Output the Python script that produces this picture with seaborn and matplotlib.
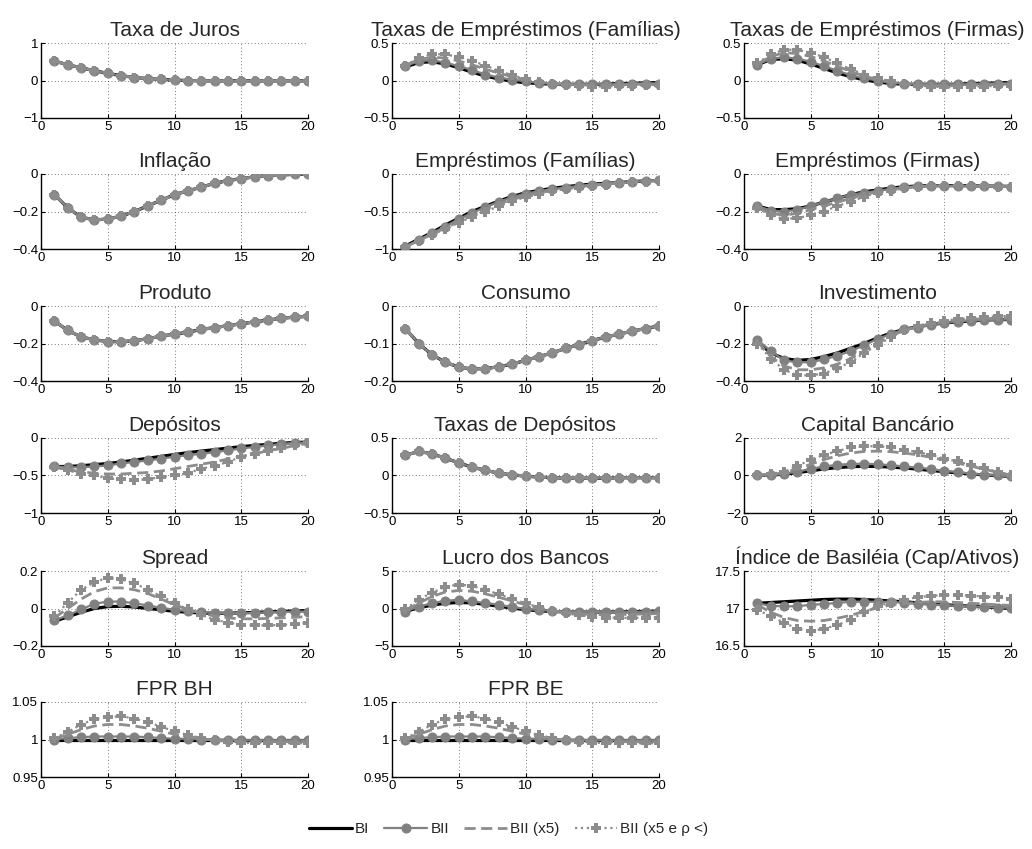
import numpy as np
import pandas as pd
import matplotlib
matplotlib.use("Agg")
import matplotlib.pyplot as plt
from matplotlib.ticker import FuncFormatter
import seaborn as sns

sns.set_style("white")
plt.rcParams['font.family'] = ['Liberation Sans', 'DejaVu Sans']

periods = list(range(1, 21))
series_names = ["BI", "BII", "BII (x5)", "BII (x5 e ρ <)"]

titles = ["Taxa de Juros", "Taxas de Empréstimos (Famílias)", "Taxas de Empréstimos (Firmas)",
          "Inflação", "Empréstimos (Famílias)", "Empréstimos (Firmas)",
          "Produto", "Consumo", "Investimento",
          "Depósitos", "Taxas de Depósitos", "Capital Bancário",
          "Spread", "Lucro dos Bancos", "Índice de Basiléia (Cap/Ativos)",
          "FPR BH", "FPR BE"]

yticks = [[-1, 0, 1], [-0.5, 0, 0.5], [-0.5, 0, 0.5],
          [-0.4, -0.2, 0], [-1, -0.5, 0], [-0.4, -0.2, 0],
          [-0.4, -0.2, 0], [-0.2, -0.1, 0], [-0.4, -0.2, 0],
          [-1, -0.5, 0], [-0.5, 0, 0.5], [-2, 0, 2],
          [-0.2, 0, 0.2], [-5, 0, 5], [16.5, 17, 17.5],
          [0.95, 1, 1.05], [0.95, 1, 1.05]]

# ---- data (BI, BII, BII x5, BII x5 rho<) ----
juros = [0.52, 0.42, 0.34, 0.26, 0.19, 0.13, 0.08, 0.05, 0.03, 0.01, 0.0, -0.01, -0.01, -0.01, -0.01, -0.01, -0.01, -0.01, -0.01, -0.01]
juros_all = [juros, juros, juros, juros]

tef_bi = [0.18, 0.24, 0.25, 0.22, 0.17, 0.11, 0.06, 0.02, -0.01, -0.03, -0.04, -0.05, -0.05, -0.05, -0.05, -0.05, -0.04, -0.04, -0.03, -0.03]
tef_bii = [0.19, 0.26, 0.27, 0.24, 0.19, 0.14, 0.08, 0.04, 0.01, -0.01, -0.03, -0.04, -0.05, -0.05, -0.05, -0.05, -0.05, -0.04, -0.04, -0.04]
tef_x5 = [0.20, 0.28, 0.31, 0.30, 0.26, 0.21, 0.15, 0.10, 0.05, 0.01, -0.02, -0.04, -0.05, -0.06, -0.06, -0.06, -0.06, -0.05, -0.05, -0.05]
tef_rho = [0.20, 0.30, 0.35, 0.35, 0.31, 0.26, 0.20, 0.13, 0.07, 0.02, -0.02, -0.05, -0.06, -0.07, -0.08, -0.08, -0.07, -0.07, -0.06, -0.06]

tefi_bi = [0.21, 0.28, 0.29, 0.27, 0.22, 0.16, 0.10, 0.05, 0.01, -0.02, -0.04, -0.05, -0.05, -0.05, -0.05, -0.05, -0.04, -0.04, -0.03, -0.03]
tefi_bii = [0.21, 0.29, 0.31, 0.29, 0.25, 0.19, 0.13, 0.07, 0.03, 0.0, -0.03, -0.04, -0.05, -0.05, -0.05, -0.05, -0.05, -0.04, -0.04, -0.04]
tefi_x5 = [0.22, 0.32, 0.37, 0.36, 0.32, 0.26, 0.19, 0.12, 0.06, 0.01, -0.02, -0.05, -0.06, -0.07, -0.07, -0.07, -0.06, -0.06, -0.05, -0.05]
tefi_rho = [0.23, 0.35, 0.41, 0.41, 0.37, 0.31, 0.23, 0.15, 0.08, 0.03, -0.01, -0.05, -0.07, -0.08, -0.09, -0.09, -0.08, -0.08, -0.07, -0.07]

infl = [-0.11, -0.18, -0.23, -0.245, -0.24, -0.225, -0.20, -0.17, -0.14, -0.11, -0.09, -0.07, -0.05, -0.035, -0.025, -0.015, -0.008, -0.005, -0.002, 0.0]
infl_all = [infl, infl, infl, infl]

ef_bi = [-0.96, -0.87, -0.78, -0.68, -0.59, -0.50, -0.43, -0.36, -0.30, -0.25, -0.22, -0.19, -0.17, -0.15, -0.135, -0.125, -0.115, -0.10, -0.093, -0.085]
ef_bii = [-0.97, -0.88, -0.79, -0.70, -0.60, -0.52, -0.44, -0.37, -0.31, -0.26, -0.23, -0.20, -0.18, -0.16, -0.14, -0.13, -0.12, -0.10, -0.095, -0.085]
ef_x5 = [-0.97, -0.89, -0.80, -0.72, -0.63, -0.55, -0.47, -0.40, -0.34, -0.29, -0.25, -0.22, -0.19, -0.17, -0.15, -0.135, -0.12, -0.105, -0.095, -0.085]
ef_rho = [-0.97, -0.89, -0.81, -0.73, -0.65, -0.57, -0.50, -0.43, -0.36, -0.31, -0.27, -0.23, -0.20, -0.18, -0.155, -0.14, -0.125, -0.11, -0.10, -0.09]

efi_bi = [-0.17, -0.19, -0.19, -0.185, -0.17, -0.15, -0.13, -0.11, -0.095, -0.085, -0.075, -0.068, -0.064, -0.062, -0.062, -0.062, -0.063, -0.064, -0.065, -0.066]
efi_bii = [-0.17, -0.195, -0.20, -0.19, -0.17, -0.15, -0.13, -0.11, -0.10, -0.09, -0.08, -0.07, -0.065, -0.063, -0.063, -0.063, -0.064, -0.065, -0.066, -0.067]
efi_x5 = [-0.18, -0.21, -0.22, -0.21, -0.19, -0.17, -0.15, -0.13, -0.11, -0.095, -0.085, -0.075, -0.068, -0.064, -0.063, -0.063, -0.064, -0.065, -0.066, -0.067]
efi_rho = [-0.18, -0.22, -0.24, -0.235, -0.22, -0.20, -0.17, -0.15, -0.12, -0.10, -0.088, -0.077, -0.07, -0.066, -0.064, -0.064, -0.065, -0.066, -0.067, -0.068]

prod = [-0.08, -0.13, -0.165, -0.18, -0.19, -0.19, -0.185, -0.175, -0.16, -0.15, -0.14, -0.125, -0.115, -0.105, -0.095, -0.085, -0.075, -0.065, -0.06, -0.055]
prod_all = [prod, prod, prod, prod]

cons = [-0.06, -0.10, -0.13, -0.15, -0.163, -0.168, -0.167, -0.162, -0.155, -0.145, -0.135, -0.125, -0.113, -0.103, -0.092, -0.083, -0.075, -0.067, -0.06, -0.053]
cons_all = [cons, cons, cons, cons]

inv_bi = [-0.19, -0.25, -0.28, -0.29, -0.285, -0.27, -0.25, -0.225, -0.20, -0.17, -0.145, -0.125, -0.11, -0.10, -0.09, -0.085, -0.08, -0.075, -0.073, -0.072]
inv_bii = [-0.18, -0.24, -0.29, -0.30, -0.30, -0.285, -0.265, -0.24, -0.21, -0.175, -0.15, -0.125, -0.115, -0.10, -0.09, -0.083, -0.078, -0.075, -0.073, -0.072]
inv_x5 = [-0.19, -0.27, -0.32, -0.34, -0.34, -0.33, -0.31, -0.28, -0.24, -0.20, -0.16, -0.13, -0.11, -0.095, -0.085, -0.078, -0.072, -0.068, -0.065, -0.062]
inv_rho = [-0.20, -0.28, -0.34, -0.37, -0.37, -0.36, -0.33, -0.30, -0.25, -0.21, -0.165, -0.13, -0.105, -0.09, -0.078, -0.07, -0.063, -0.058, -0.055, -0.052]

dep_bi = [-0.38, -0.38, -0.37, -0.355, -0.34, -0.32, -0.295, -0.27, -0.245, -0.22, -0.195, -0.175, -0.155, -0.135, -0.115, -0.10, -0.085, -0.07, -0.06, -0.055]
dep_bii = [-0.38, -0.39, -0.39, -0.38, -0.365, -0.34, -0.32, -0.30, -0.275, -0.25, -0.23, -0.21, -0.19, -0.165, -0.14, -0.12, -0.10, -0.08, -0.065, -0.06]
dep_x5 = [-0.39, -0.42, -0.45, -0.47, -0.48, -0.48, -0.47, -0.46, -0.44, -0.41, -0.38, -0.35, -0.32, -0.28, -0.245, -0.21, -0.17, -0.14, -0.10, -0.07]
dep_rho = [-0.39, -0.43, -0.48, -0.50, -0.54, -0.55, -0.56, -0.55, -0.52, -0.50, -0.47, -0.41, -0.37, -0.32, -0.25, -0.21, -0.17, -0.13, -0.10, -0.07]

tdep = [0.27, 0.32, 0.29, 0.23, 0.17, 0.11, 0.07, 0.03, 0.01, -0.01, -0.02, -0.03, -0.035, -0.035, -0.035, -0.035, -0.03, -0.03, -0.03, -0.03]
tdep_all = [tdep, tdep, tdep, tdep]

cap_bi = [0.0, 0.02, 0.07, 0.15, 0.25, 0.35, 0.42, 0.47, 0.49, 0.48, 0.45, 0.40, 0.34, 0.27, 0.20, 0.14, 0.08, 0.03, -0.01, -0.05]
cap_bii = [0.0, 0.0, 0.10, 0.20, 0.36, 0.48, 0.57, 0.62, 0.63, 0.60, 0.55, 0.48, 0.43, 0.34, 0.25, 0.18, 0.10, 0.04, 0.0, -0.05]
cap_x5 = [0.02, 0.05, 0.15, 0.35, 0.60, 0.85, 1.05, 1.20, 1.28, 1.30, 1.27, 1.20, 1.10, 0.97, 0.82, 0.66, 0.50, 0.33, 0.17, 0.02]
cap_rho = [0.03, 0.08, 0.20, 0.50, 0.85, 1.10, 1.30, 1.50, 1.55, 1.57, 1.50, 1.38, 1.25, 1.10, 0.90, 0.75, 0.55, 0.38, 0.20, 0.03]

spr_bi = [-0.068, -0.045, -0.02, 0.0, 0.01, 0.012, 0.008, 0.0, -0.007, -0.015, -0.02, -0.024, -0.025, -0.025, -0.023, -0.021, -0.018, -0.016, -0.013, -0.011]
spr_bii = [-0.063, -0.037, -0.005, 0.025, 0.037, 0.037, 0.028, 0.016, 0.004, -0.007, -0.014, -0.02, -0.023, -0.025, -0.025, -0.023, -0.021, -0.019, -0.017, -0.016]
spr_x5 = [-0.05, 0.0, 0.05, 0.09, 0.11, 0.11, 0.10, 0.08, 0.05, 0.02, -0.005, -0.025, -0.04, -0.05, -0.055, -0.055, -0.053, -0.05, -0.047, -0.043]
spr_rho = [-0.04, 0.03, 0.10, 0.14, 0.165, 0.155, 0.135, 0.10, 0.065, 0.03, -0.005, -0.035, -0.06, -0.075, -0.086, -0.09, -0.09, -0.088, -0.083, -0.075]

luc_bi = [-0.4, 0.1, 0.45, 0.7, 0.8, 0.75, 0.55, 0.3, 0.05, -0.15, -0.3, -0.4, -0.45, -0.48, -0.48, -0.47, -0.45, -0.42, -0.38, -0.35]
luc_bii = [-0.4, 0.25, 0.7, 1.05, 1.15, 0.95, 0.75, 0.5, 0.2, -0.05, -0.2, -0.3, -0.4, -0.45, -0.48, -0.48, -0.47, -0.45, -0.42, -0.38]
luc_x5 = [-0.2, 0.7, 1.6, 2.2, 2.4, 2.3, 1.95, 1.5, 1.0, 0.5, 0.05, -0.3, -0.55, -0.7, -0.8, -0.82, -0.8, -0.77, -0.72, -0.68]
luc_rho = [-0.1, 1.2, 2.1, 2.9, 3.2, 3.0, 2.5, 1.9, 1.3, 0.7, 0.15, -0.3, -0.65, -0.9, -1.1, -1.2, -1.25, -1.25, -1.22, -1.2]

bas_bi = [17.07, 17.08, 17.09, 17.10, 17.11, 17.12, 17.125, 17.125, 17.12, 17.11, 17.10, 17.09, 17.075, 17.06, 17.05, 17.04, 17.03, 17.02, 17.01, 17.0]
bas_bii = [17.07, 17.035, 17.03, 17.03, 17.05, 17.06, 17.075, 17.09, 17.09, 17.09, 17.088, 17.075, 17.06, 17.053, 17.045, 17.035, 17.027, 17.02, 17.013, 17.01]
bas_x5 = [17.05, 16.95, 16.88, 16.84, 16.83, 16.84, 16.87, 16.91, 16.96, 17.01, 17.05, 17.07, 17.08, 17.09, 17.09, 17.08, 17.07, 17.06, 17.05, 17.04]
bas_rho = [16.98, 16.90, 16.81, 16.73, 16.70, 16.73, 16.78, 16.85, 16.95, 17.03, 17.08, 17.12, 17.15, 17.17, 17.18, 17.18, 17.17, 17.16, 17.15, 17.13]

fbh_bi = [1.0] * 20
fbh_bii = [1.0, 1.002, 1.003, 1.004, 1.004, 1.004, 1.004, 1.003, 1.002, 1.001, 1.001, 1.0, 1.0, 1.0, 0.999, 0.999, 0.999, 0.999, 0.999, 0.999]
fbh_x5 = [1.001, 1.007, 1.013, 1.018, 1.02, 1.02, 1.018, 1.015, 1.011, 1.007, 1.004, 1.001, 0.999, 0.998, 0.997, 0.997, 0.997, 0.997, 0.997, 0.997]
fbh_rho = [1.002, 1.01, 1.02, 1.027, 1.03, 1.031, 1.028, 1.023, 1.017, 1.011, 1.006, 1.002, 0.999, 0.997, 0.996, 0.995, 0.995, 0.995, 0.995, 0.995]

fbe_bi = [1.0] * 20
fbe_bii = [1.0, 1.002, 1.003, 1.004, 1.004, 1.004, 1.004, 1.003, 1.002, 1.001, 1.001, 1.0, 1.0, 1.0, 0.999, 0.999, 0.999, 0.999, 0.999, 0.999]
fbe_x5 = [1.001, 1.007, 1.013, 1.018, 1.02, 1.02, 1.018, 1.015, 1.011, 1.007, 1.004, 1.001, 0.999, 0.998, 0.997, 0.997, 0.997, 0.997, 0.997, 0.997]
fbe_rho = [1.002, 1.01, 1.02, 1.027, 1.03, 1.031, 1.028, 1.023, 1.017, 1.011, 1.006, 1.002, 0.999, 0.997, 0.996, 0.995, 0.995, 0.995, 0.995, 0.995]

panels = [juros_all,
          [tef_bi, tef_bii, tef_x5, tef_rho],
          [tefi_bi, tefi_bii, tefi_x5, tefi_rho],
          infl_all,
          [ef_bi, ef_bii, ef_x5, ef_rho],
          [efi_bi, efi_bii, efi_x5, efi_rho],
          prod_all, cons_all,
          [inv_bi, inv_bii, inv_x5, inv_rho],
          [dep_bi, dep_bii, dep_x5, dep_rho],
          tdep_all,
          [cap_bi, cap_bii, cap_x5, cap_rho],
          [spr_bi, spr_bii, spr_x5, spr_rho],
          [luc_bi, luc_bii, luc_x5, luc_rho],
          [bas_bi, bas_bii, bas_x5, bas_rho],
          [fbh_bi, fbh_bii, fbh_x5, fbh_rho],
          [fbe_bi, fbe_bii, fbe_x5, fbe_rho]]

# ---- styles ----
GRAY = (0.5, 0.5, 0.5)
styles = [
    dict(color="black", linestyle="-", linewidth=2.3, marker=None, zorder=2),
    dict(color=GRAY, linestyle="-", linewidth=1.6, marker="o", markersize=6.5,
         markeredgecolor=GRAY, zorder=3),
    dict(color=(0.55, 0.55, 0.55), linestyle=(0, (4, 2)), linewidth=2.0, marker=None, zorder=4),
    dict(color=(0.55, 0.55, 0.55), linestyle=":", linewidth=1.6, marker="P", markersize=6.5,
         markeredgewidth=0, zorder=5),
]

W, H = 1032, 849
fig = plt.figure(figsize=(W / 100, H / 100), dpi=100)

col_left = [41, 392, 744]
row_bottom = [118, 249, 381, 513, 646, 777]
ax_w, ax_h = 267, 75

def fmt(v, pos):
    s = "{:g}".format(round(v, 6))
    return s.replace("-", "\u2212")

handles = None
for i, (title, data, yt) in enumerate(zip(titles, panels, yticks)):
    r, c = divmod(i, 3)
    ax = fig.add_axes([col_left[c] / W, 1 - row_bottom[r] / H, ax_w / W, ax_h / H])
    for name, ys, st in zip(series_names, data, styles):
        df = pd.DataFrame({"t": periods, "v": ys})
        sns.lineplot(data=df, x="t", y="v", ax=ax, label=name, **st)
    ax.set_xlim(0, 20)
    ax.set_ylim(yt[0], yt[-1])
    ax.set_xticks([0, 5, 10, 15, 20])
    ax.set_yticks(yt)
    ax.yaxis.set_major_formatter(FuncFormatter(fmt))
    ax.xaxis.set_major_formatter(FuncFormatter(fmt))
    ax.set_xlabel("")
    ax.set_ylabel("")
    ax.set_title(title, fontsize=15, pad=5)
    ax.grid(True, linestyle=(0, (1, 3)), color="black", linewidth=0.6, alpha=0.7)
    ax.set_axisbelow(True)
    for s in ["top", "right"]:
        ax.spines[s].set_visible(False)
    for s in ["left", "bottom"]:
        ax.spines[s].set_color("black")
        ax.spines[s].set_linewidth(1.0)
    ax.tick_params(axis="both", direction="in", length=3, width=0.8, labelsize=9.5,
                   colors="black", pad=2, left=True, bottom=True)
    if handles is None:
        handles, labels = ax.get_legend_handles_labels()
    ax.get_legend().remove()

fig.legend(handles, labels, loc="center", bbox_to_anchor=(0.493, 1 - 829 / H), ncol=4,
           frameon=False, fontsize=11, handlelength=2.8, handletextpad=0.2,
           columnspacing=1.0)

fig.savefig("out.png", dpi=100, facecolor="white")
